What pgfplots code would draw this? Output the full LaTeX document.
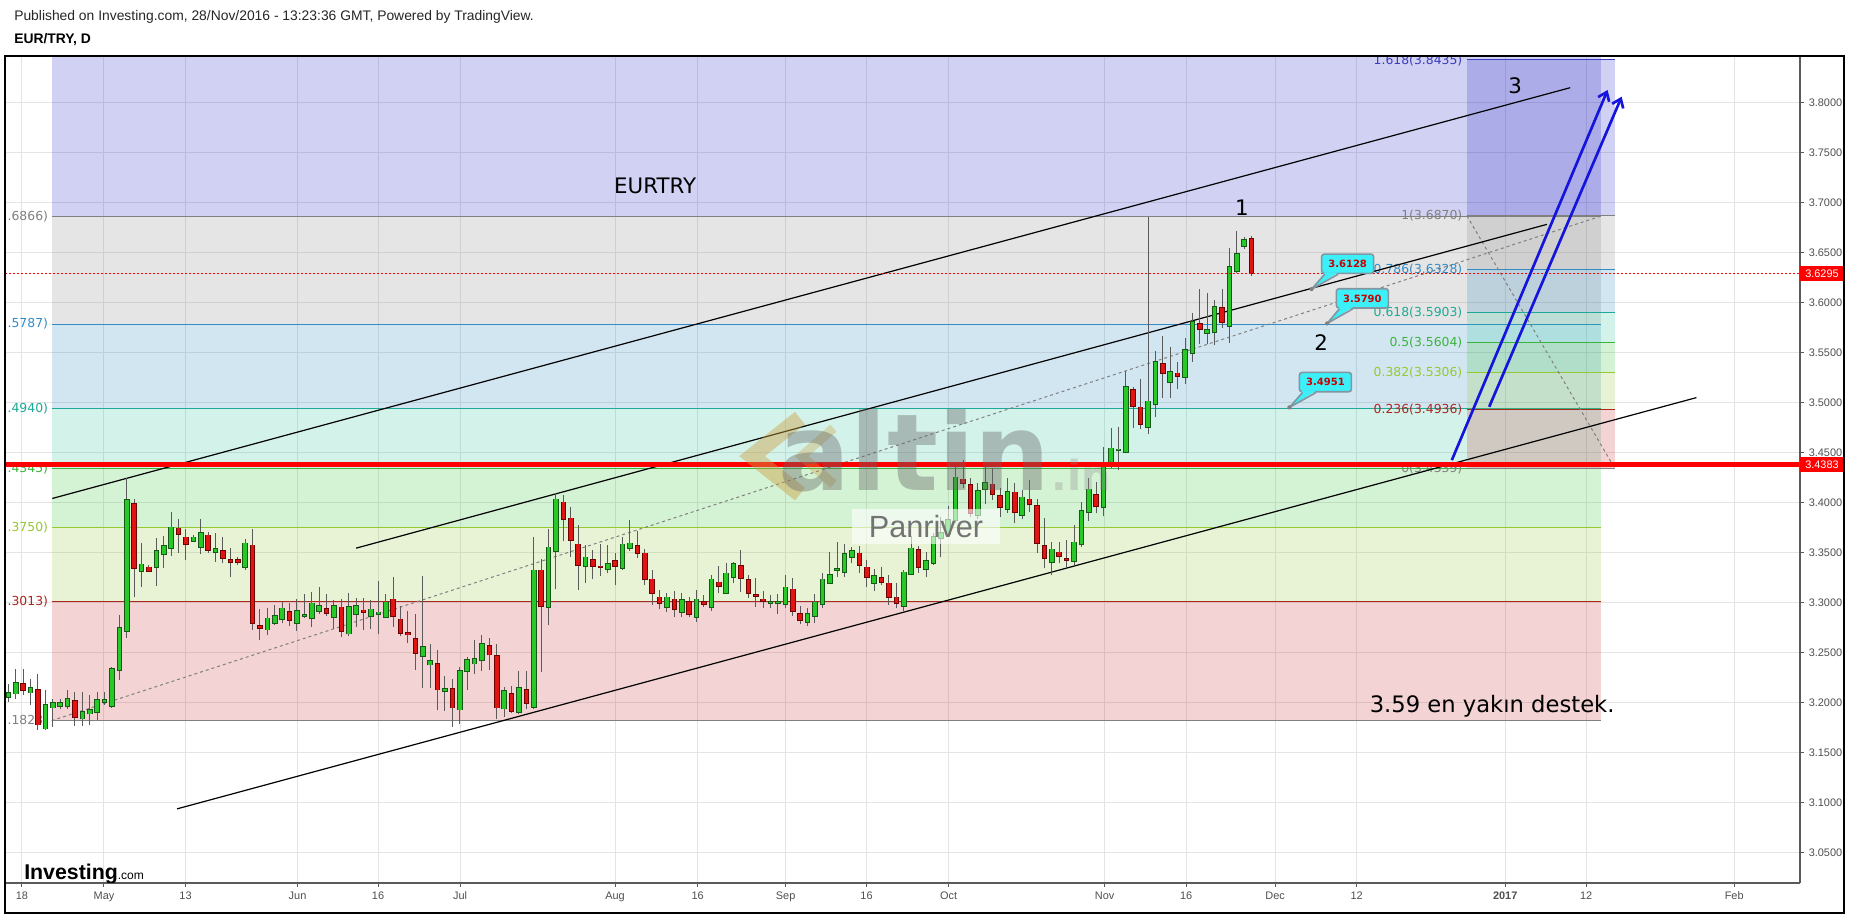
\documentclass[border=0pt]{standalone}
\usepackage{fontspec}
\setmainfont{Liberation Sans}
\newfontfamily\dv{DejaVu Sans}
\usepackage{pgfplots}
\pgfplotsset{compat=1.18}
\usepackage{pgfplotstable}
\usetikzlibrary{arrows.meta}

\definecolor{candlegreen}{RGB}{40,200,40}
\definecolor{greenedge}{RGB}{20,90,20}
\definecolor{candlered}{RGB}{225,20,20}
\definecolor{rededge}{RGB}{110,0,0}
\definecolor{wick}{RGB}{90,90,90}
\definecolor{fz1618}{RGB}{25,25,195}
\definecolor{fz1}{RGB}{125,125,125}
\definecolor{fz786}{RGB}{30,130,190}
\definecolor{fz618}{RGB}{35,195,150}
\definecolor{fz5}{RGB}{40,190,40}
\definecolor{fz382}{RGB}{140,195,45}
\definecolor{fz236}{RGB}{195,35,35}
\definecolor{fl1618}{RGB}{60,60,190}
\definecolor{flgray}{RGB}{128,128,128}
\definecolor{fl786}{RGB}{50,140,200}
\definecolor{fl618}{RGB}{30,170,150}
\definecolor{fl5}{RGB}{60,180,60}
\definecolor{fl382}{RGB}{150,200,50}
\definecolor{fl236}{RGB}{170,40,30}
\definecolor{callout}{RGB}{60,240,250}
\definecolor{calloutedge}{RGB}{130,150,160}
\definecolor{callouttext}{RGB}{200,0,0}
\definecolor{arrowblue}{RGB}{20,20,220}
\definecolor{ticktext}{RGB}{80,80,80}
\definecolor{axisgray}{RGB}{90,90,90}
\definecolor{gridgray}{RGB}{228,228,228}
\definecolor{gold}{RGB}{205,160,70}

\tikzset{
  fiblab/.style={anchor=east, inner sep=0pt, font=\dv\fontsize{9.3}{10}\selectfont},
  callbox/.style={draw=calloutedge, line width=1.2pt, fill=callout, rounded corners=2pt,
    minimum width=39pt, minimum height=14.5pt, inner sep=1pt, text=callouttext,
    font=\dv\bfseries\fontsize{7.5}{8}\selectfont},
}
\pgfplotsset{
  wickst/.style={only marks, mark=none, mark size=0pt, mark options={draw opacity=0, fill opacity=0}, forget plot,
    error bars/.cd, y dir=plus, y explicit, error mark=none,
    error bar style={line width=0.75pt, draw=wick}},
  bodyst/.style 2 args={only marks, mark=none, mark size=0pt, mark options={draw opacity=0, fill opacity=0}, forget plot,
    error bars/.cd, y dir=plus, y explicit, error mark=none,
    error bar style={line width=#1, draw=#2}},
}

% green (rising) candles: index, open, high, low, close
\pgfplotstableread{
i o h l c
0 3.2060 3.2194 3.2010 3.2104
1 3.2094 3.2344 3.2044 3.2204
3 3.2104 3.2244 3.1977 3.2150
5 3.1744 3.2134 3.1727 3.1977
6 3.1954 3.2044 3.1760 3.2004
7 3.1970 3.2037 3.1944 3.2004
8 3.1970 3.2134 3.1944 3.2044
10 3.1844 3.2110 3.1767 3.1910
11 3.1894 3.2077 3.1777 3.1934
12 3.1910 3.2110 3.1827 3.2027
13 3.2007 3.2110 3.1977 3.2027
14 3.1970 3.2360 3.1954 3.2344
15 3.2327 3.2877 3.2227 3.2754
16 3.2720 3.4244 3.2650 3.4027
18 3.3320 3.3600 3.3160 3.3384
20 3.3354 3.3644 3.3170 3.3517
21 3.3484 3.3667 3.3350 3.3567
22 3.3550 3.3910 3.3467 3.3754
25 3.3620 3.3674 3.3610 3.3654
26 3.3560 3.3837 3.3484 3.3697
28 3.3504 3.3694 3.3410 3.3537
32 3.3360 3.3634 3.3327 3.3594
35 3.2734 3.2944 3.2677 3.2844
36 3.2800 3.2977 3.2777 3.2867
37 3.2834 3.3010 3.2794 3.2944
39 3.2800 3.3034 3.2720 3.2917
40 3.2870 3.3087 3.2844 3.2880
41 3.2844 3.3110 3.2760 3.2994
42 3.2920 3.3154 3.2887 3.2967
44 3.2860 3.3027 3.2744 3.2970
46 3.2694 3.3094 3.2667 3.2960
47 3.2887 3.3050 3.2760 3.2967
49 3.2870 3.3027 3.2737 3.2934
50 3.2887 3.3217 3.2694 3.2904
51 3.2854 3.3084 3.2844 3.3004
56 3.2470 3.3267 3.2150 3.2560
57 3.2384 3.2594 3.2150 3.2417
59 3.2117 3.2267 3.1920 3.2137
61 3.1934 3.2360 3.1794 3.2317
62 3.2317 3.2460 3.2134 3.2427
63 3.2394 3.2634 3.2294 3.2444
64 3.2427 3.2677 3.2320 3.2594
67 3.1944 3.2160 3.1860 3.2117
69 3.1910 3.2317 3.1887 3.2154
71 3.1960 3.3654 3.1944 3.3324
73 3.2954 3.3734 3.2777 3.3554
74 3.3520 3.4094 3.3134 3.4034
78 3.3367 3.3577 3.3200 3.3454
81 3.3340 3.3577 3.3294 3.3387
83 3.3350 3.3654 3.3327 3.3584
84 3.3550 3.3827 3.3517 3.3594
89 3.2960 3.3100 3.2910 3.3054
91 3.2910 3.3094 3.2860 3.3027
93 3.2860 3.3127 3.2810 3.3034
95 3.2954 3.3277 3.2920 3.3234
97 3.3094 3.3394 3.3087 3.3294
98 3.3260 3.3410 3.3194 3.3387
103 3.2994 3.3077 3.2944 3.3007
104 3.3000 3.3087 3.2887 3.3010
105 3.2987 3.3277 3.2944 3.3154
108 3.2810 3.2944 3.2767 3.2887
109 3.2867 3.3087 3.2800 3.3004
110 3.2987 3.3294 3.2944 3.3234
111 3.3200 3.3510 3.3194 3.3277
112 3.3330 3.3610 3.3254 3.3340
113 3.3310 3.3587 3.3260 3.3487
114 3.3454 3.3560 3.3394 3.3517
117 3.3200 3.3334 3.3120 3.3267
121 3.2967 3.3327 3.2920 3.3304
122 3.3284 3.3667 3.3277 3.3544
124 3.3334 3.3510 3.3254 3.3417
125 3.3400 3.3694 3.3377 3.3660
126 3.3644 3.3860 3.3454 3.3700
127 3.3687 3.3967 3.3660 3.3827
128 3.3827 3.4354 3.3800 3.4254
131 3.3877 3.4200 3.3840 3.4120
132 3.4134 3.4360 3.3987 3.4200
135 3.3934 3.4244 3.3894 3.4110
137 3.3877 3.4127 3.3834 3.4054
141 3.3410 3.3610 3.3277 3.3534
144 3.3417 3.3777 3.3377 3.3604
145 3.3584 3.4010 3.3560 3.3920
146 3.3904 3.4244 3.3820 3.4134
148 3.3954 3.4560 3.3867 3.4384
149 3.4377 3.4750 3.4344 3.4544
150 3.4524 3.4760 3.4327 3.4534
151 3.4504 3.5320 3.4494 3.5160
154 3.4760 3.6860 3.4684 3.5014
155 3.4984 3.5520 3.4854 3.5404
157 3.5204 3.5560 3.5050 3.5310
159 3.5254 3.5650 3.5184 3.5527
160 3.5494 3.5900 3.5410 3.5804
162 3.5694 3.6094 3.5587 3.5727
163 3.5704 3.6027 3.5577 3.5954
165 3.5770 3.6544 3.5594 3.6354
166 3.6320 3.6717 3.6300 3.6484
167 3.6570 3.6660 3.6534 3.6627
}\up

% red (falling) candles: index, open, high, low, close
\pgfplotstableread{
i o h l c
2 3.2194 3.2344 3.2077 3.2127
4 3.2134 3.2294 3.1727 3.1784
9 3.2017 3.2110 3.1767 3.1860
17 3.3987 3.4034 3.3060 3.3344
19 3.3354 3.3377 3.3317 3.3320
23 3.3744 3.3834 3.3494 3.3690
24 3.3654 3.3734 3.3427 3.3584
27 3.3674 3.3710 3.3494 3.3527
29 3.3517 3.3660 3.3394 3.3450
30 3.3427 3.3544 3.3260 3.3404
31 3.3427 3.3460 3.3377 3.3404
33 3.3574 3.3737 3.2734 3.2800
34 3.2767 3.2934 3.2627 3.2750
38 3.2910 3.2994 3.2767 3.2827
43 3.2937 3.3087 3.2867 3.2900
45 3.2954 3.3034 3.2660 3.2720
48 3.2924 3.3044 3.2727 3.2910
52 3.3034 3.3254 3.2760 3.2870
53 3.2834 3.2970 3.2667 3.2700
54 3.2697 3.2917 3.2600 3.2684
55 3.2644 3.2884 3.2327 3.2500
58 3.2387 3.2527 3.1927 3.2134
60 3.2144 3.2244 3.1760 3.1954
65 3.2570 3.2650 3.2334 3.2484
66 3.2467 3.2594 3.1844 3.1954
68 3.2094 3.2167 3.1900 3.1920
70 3.2127 3.2320 3.1944 3.2000
72 3.3324 3.3440 3.2310 3.2970
75 3.4004 3.4077 3.3617 3.3837
76 3.3844 3.3960 3.3460 3.3627
77 3.3584 3.3777 3.3127 3.3377
79 3.3427 3.3527 3.3237 3.3367
80 3.3364 3.3587 3.3267 3.3354
82 3.3417 3.3494 3.3177 3.3367
85 3.3567 3.3720 3.3444 3.3500
86 3.3494 3.3534 3.3177 3.3234
87 3.3234 3.3327 3.2977 3.3100
88 3.3054 3.3127 3.2934 3.3000
90 3.3034 3.3120 3.2860 3.2934
92 3.3007 3.3060 3.2860 3.2884
94 3.3010 3.3077 3.2960 3.2984
96 3.3204 3.3367 3.3100 3.3170
99 3.3367 3.3527 3.3110 3.3244
100 3.3227 3.3277 3.3044 3.3100
101 3.3077 3.3250 3.2960 3.3070
102 3.3034 3.3117 3.2944 3.3017
106 3.3134 3.3250 3.2867 3.2917
107 3.2887 3.2967 3.2787 3.2827
115 3.3494 3.3567 3.3300 3.3377
116 3.3354 3.3427 3.3160 3.3260
118 3.3250 3.3360 3.3177 3.3210
119 3.3194 3.3277 3.2977 3.3060
120 3.3054 3.3194 3.2944 3.2994
123 3.3527 3.3567 3.3300 3.3354
129 3.4234 3.4427 3.4150 3.4194
130 3.4177 3.4244 3.3854 3.3900
133 3.4184 3.4344 3.4027 3.4087
134 3.4067 3.4144 3.3860 3.3954
136 3.4104 3.4194 3.3794 3.3904
138 3.4034 3.4227 3.3910 3.3987
139 3.3967 3.4034 3.3494 3.3594
140 3.3570 3.3844 3.3344 3.3444
142 3.3504 3.3610 3.3394 3.3467
143 3.3437 3.3627 3.3344 3.3427
147 3.4077 3.4210 3.3894 3.3967
152 3.5127 3.5160 3.4744 3.4970
153 3.4954 3.5234 3.4734 3.4787
156 3.5387 3.5667 3.5050 3.5300
158 3.5294 3.5410 3.5137 3.5270
161 3.5787 3.6134 3.5587 3.5734
164 3.5944 3.6134 3.5750 3.5810
168 3.6634 3.6667 3.6267 3.6295
}\down

\begin{document}
\begin{tikzpicture}
\useasboundingbox (0,0) rectangle (1388.25pt,687pt);
\fill[white] (0,0) rectangle (1388.25pt,687pt);

\begin{axis}[
  at={(3.75pt,24.75pt)}, anchor=south west,
  width=1346.25pt, height=620.25pt, scale only axis,
  xmin=-0.446, xmax=242.1, ymin=3.02, ymax=3.8467,
  axis x line*=bottom, axis y line*=right,
  axis line style={draw=axisgray, line width=0.9pt},
  xtick={1.85,12.93,23.95,39.08,49.96,61.04,81.99,93.14,105.03,115.97,127.05,148.14,159.15,171.18,182.19,202.26,213.2,233.2},
  xticklabels={18,May,13,Jun,16,Jul,Aug,16,Sep,16,Oct,Nov,16,Dec,12,{\bfseries 2017},12,Feb},
  ytick={3.05,3.10,3.15,3.20,3.25,3.30,3.35,3.40,3.45,3.50,3.55,3.60,3.65,3.70,3.75,3.80},
  y tick label style={/pgf/number format/fixed, /pgf/number format/fixed zerofill,
    /pgf/number format/precision=4, /pgf/number format/assume math mode=true},
  ticklabel style={font=\fontsize{8.2}{9}\selectfont, text=ticktext},
  tick style={draw=axisgray, line width=0.75pt},
  tick align=outside, major tick length=3pt,
  grid=major, major grid style={draw=gridgray, line width=0.75pt},
]

% ---- large Fibonacci retracement (0 = 3.1823, 1 = 3.6866)
\fill[fz1618, fill opacity=0.2] (5.865,3.6866) rectangle (215.19,3.8467);
\fill[fz1,    fill opacity=0.2] (5.865,3.5787) rectangle (215.19,3.6866);
\fill[fz786,  fill opacity=0.2] (5.865,3.4940) rectangle (215.19,3.5787);
\fill[fz618,  fill opacity=0.2] (5.865,3.4345) rectangle (215.19,3.4940);
\fill[fz5,    fill opacity=0.2] (5.865,3.3750) rectangle (215.19,3.4345);
\fill[fz382,  fill opacity=0.2] (5.865,3.3013) rectangle (215.19,3.3750);
\fill[fz236,  fill opacity=0.2] (5.865,3.1823) rectangle (215.19,3.3013);
\draw[flgray, line width=0.75pt] (5.865,3.6866) -- (215.19,3.6866);
\draw[fl786,  line width=0.75pt] (5.865,3.5787) -- (215.19,3.5787);
\draw[fl618,  line width=0.75pt] (5.865,3.4940) -- (215.19,3.4940);
\draw[fl5,    line width=0.75pt] (5.865,3.4345) -- (215.19,3.4345);
\draw[fl382,  line width=0.75pt] (5.865,3.3750) -- (215.19,3.3750);
\draw[fl236,  line width=0.75pt] (5.865,3.3013) -- (215.19,3.3013);
\draw[flgray, line width=0.75pt] (5.865,3.1823) -- (215.19,3.1823);
\node[fiblab, text=flgray] at (5.4,3.6866) {.6866)};
\node[fiblab, text=fl786]  at (5.4,3.5787) {.5787)};
\node[fiblab, text=fl618]  at (5.4,3.4940) {.4940)};
\node[fiblab, text=fl5]    at (5.4,3.4345) {.4345)};
\node[fiblab, text=fl382]  at (5.4,3.3750) {.3750)};
\node[fiblab, text=fl236]  at (5.4,3.3013) {.3013)};
\node[fiblab, text=flgray] at (5.4,3.1823) {.1823)};
\draw[gray, line width=0.75pt, dash pattern=on 2.25pt off 2.25pt] (5.865,3.1823) -- (215.19,3.6866);

% ---- second Fibonacci (0 = 3.4339, 1 = 3.6870)
\fill[fz1618, fill opacity=0.2] (197.08,3.6870) rectangle (217.12,3.8435);
\fill[fz1,    fill opacity=0.2] (197.08,3.6328) rectangle (217.12,3.6870);
\fill[fz786,  fill opacity=0.2] (197.08,3.5903) rectangle (217.12,3.6328);
\fill[fz618,  fill opacity=0.2] (197.08,3.5604) rectangle (217.12,3.5903);
\fill[fz5,    fill opacity=0.2] (197.08,3.5306) rectangle (217.12,3.5604);
\fill[fz382,  fill opacity=0.2] (197.08,3.4936) rectangle (217.12,3.5306);
\fill[fz236,  fill opacity=0.2] (197.08,3.4339) rectangle (217.12,3.4936);
\draw[fl1618, line width=0.75pt] (197.08,3.8435) -- (217.12,3.8435);
\draw[flgray, line width=0.75pt] (197.08,3.6870) -- (217.12,3.6870);
\draw[fl786,  line width=0.75pt] (197.08,3.6328) -- (217.12,3.6328);
\draw[fl618,  line width=0.75pt] (197.08,3.5903) -- (217.12,3.5903);
\draw[fl5,    line width=0.75pt] (197.08,3.5604) -- (217.12,3.5604);
\draw[fl382,  line width=0.75pt] (197.08,3.5306) -- (217.12,3.5306);
\draw[fl236,  line width=0.75pt] (197.08,3.4936) -- (217.12,3.4936);
\draw[flgray, line width=0.75pt] (197.08,3.4339) -- (217.12,3.4339);
\node[fiblab, text=fl1618] at (196.5,3.8425) {1.618(3.8435)};
\node[fiblab, text=flgray] at (196.5,3.6870) {1(3.6870)};
\node[fiblab, text=fl786]  at (196.5,3.6328) {0.786(3.6328)};
\node[fiblab, text=fl618]  at (196.5,3.5903) {0.618(3.5903)};
\node[fiblab, text=fl5]    at (196.5,3.5604) {0.5(3.5604)};
\node[fiblab, text=fl382]  at (196.5,3.5306) {0.382(3.5306)};
\node[fiblab, text=fl236]  at (196.5,3.4936) {0.236(3.4936)};
\node[fiblab, text=flgray] at (196.5,3.4339) {0(3.4339)};
\draw[gray, line width=0.75pt, dash pattern=on 2.25pt off 2.25pt] (197.08,3.6870) -- (217.12,3.4339);

% ---- channel lines
\draw[black, line width=0.9pt] (5.95,3.4044) -- (211.04,3.8150);
\draw[black, line width=0.9pt] (46.99,3.3547) -- (207.9,3.6784);
\draw[black, line width=0.9pt] (22.8,3.0941) -- (228.1,3.5052);

% ---- candles
\addplot[wickst] table[x=i, y=l, y error plus expr=\thisrow{h}-\thisrow{l}] {\up};
\addplot[wickst] table[x=i, y=l, y error plus expr=\thisrow{h}-\thisrow{l}] {\down};
\addplot[bodyst={4.2pt}{greenedge}]
  table[x=i, y expr=\thisrow{o}-0.0009, y error plus expr=\thisrow{c}-\thisrow{o}+0.0018] {\up};
\addplot[bodyst={2.7pt}{candlegreen}]
  table[x=i, y=o, y error plus expr=\thisrow{c}-\thisrow{o}] {\up};
\addplot[bodyst={4.2pt}{rededge}]
  table[x=i, y expr=\thisrow{c}-0.0009, y error plus expr=\thisrow{o}-\thisrow{c}+0.0018] {\down};
\addplot[bodyst={2.7pt}{candlered}]
  table[x=i, y=c, y error plus expr=\thisrow{o}-\thisrow{c}] {\down};

% ---- horizontal price lines
\draw[red, line width=0.75pt, dash pattern=on 1.5pt off 1.5pt] (-1,3.6295) -- (243,3.6295);
\draw[red, line width=3.4pt] (-1,3.4383) -- (242.0,3.4383);
\coordinate (tagA) at (242.1,3.6295);
\coordinate (tagB) at (242.1,3.4383);

% ---- blue arrows
\draw[arrowblue, line width=2pt, -{Straight Barb[length=6pt,width=9pt,line width=2pt]}] (195.05,3.4427) -- (216.1,3.8127);
\draw[arrowblue, line width=2pt, -{Straight Barb[length=6pt,width=9pt,line width=2pt]}] (200.1,3.4960) -- (218.0,3.8060);

% ---- callouts
\node[callbox] (cA) at (180.97,3.6390) {3.6128};
\fill[callout] ([xshift=3pt,yshift=1.3pt]cA.south west) -- ([xshift=13pt,yshift=1.3pt]cA.south west) -- (176.1,3.6137) -- cycle;
\draw[calloutedge, line width=1.2pt, line join=round] ([xshift=3pt]cA.south west) -- (176.1,3.6137) -- ([xshift=13pt]cA.south west);
\fill[gray] (176.1,3.6137) circle (1.6pt);

\node[callbox] (cB) at (182.96,3.6044) {3.5790};
\fill[callout] ([xshift=3pt,yshift=1.3pt]cB.south west) -- ([xshift=13pt,yshift=1.3pt]cB.south west) -- (178.2,3.5794) -- cycle;
\draw[calloutedge, line width=1.2pt, line join=round] ([xshift=3pt]cB.south west) -- (178.2,3.5794) -- ([xshift=13pt]cB.south west);
\fill[gray] (178.2,3.5794) circle (1.6pt);

\node[callbox] (cC) at (177.97,3.5207) {3.4951};
\fill[callout] ([xshift=3pt,yshift=1.3pt]cC.south west) -- ([xshift=13pt,yshift=1.3pt]cC.south west) -- (173.1,3.4954) -- cycle;
\draw[calloutedge, line width=1.2pt, line join=round] ([xshift=3pt]cC.south west) -- (173.1,3.4954) -- ([xshift=13pt]cC.south west);
\fill[gray] (173.1,3.4954) circle (1.6pt);

% ---- texts
\node[font=\dv\fontsize{16}{16}\selectfont] at (87.4,3.7167) {EURTRY};
\node[font=\dv\fontsize{16}{16}\selectfont] at (166.7,3.6949) {1};
\node[font=\dv\fontsize{16}{16}\selectfont] at (177.4,3.5604) {2};
\node[font=\dv\fontsize{16}{16}\selectfont] at (203.6,3.8165) {3};
\node[font=\dv\fontsize{17}{17}\selectfont] at (200.5,3.1967) {3.59 en yakın destek.};

% ---- watermarks
\draw[gold, opacity=0.45, line width=12pt, line join=miter] (106.97,3.4847) -- (100.5,3.4467) -- (106.97,3.4087);
\draw[gold, opacity=0.35, line width=7pt, line join=miter] (111.5,3.4747) -- (107.2,3.4467) -- (111.5,3.4187);
\node[anchor=base east, inner sep=0pt, text=black!60, opacity=0.4, font=\dv\bfseries\fontsize{80}{80}\selectfont] at (140.9,3.4127) {altin};
\node[anchor=base west, inner sep=0pt, text=black!45, opacity=0.3, font=\dv\bfseries\fontsize{31}{31}\selectfont] at (140.9,3.4127) {.in};
\fill[white, opacity=0.6] (113.98,3.3937) rectangle (134.0,3.3587);
\node[text=black!55, font=\fontsize{23}{23}\selectfont] at (124.0,3.3767) {Panriver};

% ---- logo
\node[anchor=west, inner sep=0pt] at (2.12,3.0290) {{\fontsize{16}{16}\selectfont\bfseries Investing}{\fontsize{9}{9}\selectfont .com}};
\end{axis}

% price tags on the right axis
\node[anchor=west, fill=red, text=white, minimum width=32.5pt, minimum height=11.5pt, inner sep=0pt,
  font=\fontsize{8.2}{9}\selectfont] at (tagA) {3.6295};
\node[anchor=west, fill=red, text=white, minimum width=32.5pt, minimum height=11.5pt, inner sep=0pt,
  font=\fontsize{8.2}{9}\selectfont] at (tagB) {3.4383};

% outer frame and header
\draw[black, line width=1pt] (3.75pt,2.25pt) rectangle (1383pt,645pt);
\node[anchor=west, inner sep=0pt, font=\fontsize{10.4}{12}\selectfont, text=black!85] at (10.5pt,674.6pt)
  {Published on Investing.com, 28/Nov/2016 - 13:23:36 GMT, Powered by TradingView.};
\node[anchor=west, inner sep=0pt, font=\bfseries\fontsize{10.4}{12}\selectfont] at (10.5pt,657pt) {EUR/TRY, D};
\end{tikzpicture}
\end{document}
